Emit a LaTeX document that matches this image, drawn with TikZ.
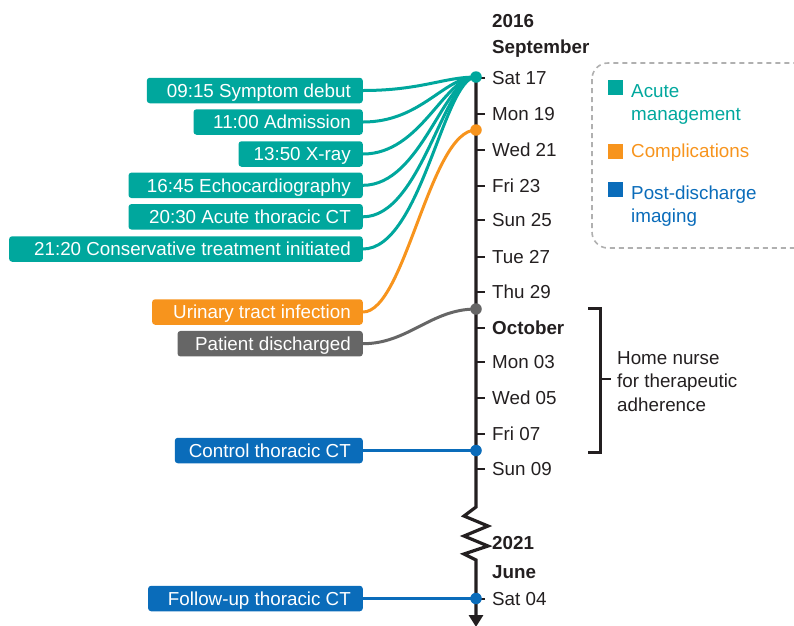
\documentclass[tikz,border=0pt]{standalone}
\usepackage{fontspec}
\setmainfont{Liberation Sans}
\usetikzlibrary{arrows.meta}

\definecolor{acutec}{HTML}{00A79D}
\definecolor{complc}{HTML}{F7941D}
\definecolor{imgc}{HTML}{0A6CBA}
\definecolor{dischc}{HTML}{666666}
\definecolor{inkc}{HTML}{231F20}
\definecolor{legendc}{HTML}{B0B0B0}

\pgfdeclarelayer{background}
\pgfsetlayers{background,main}

% right-aligned event text in a box of fixed width
\newcommand{\evtlabel}[2]{\makebox[#1pt][r]{#2}}

\begin{document}
\begin{tikzpicture}[x=1pt,y=-1pt,
  font=\fontsize{18.8pt}{23.5pt}\selectfont,
  evt/.style={fill=#1, text=white, rounded corners=3pt, anchor=east,
    minimum height=25.5pt, inner ysep=0pt, inner xsep=12pt,
    text height=13.5pt, text depth=0pt},
  dot/.style={circle, fill=#1, inner sep=0pt, minimum size=11.5pt},
  link/.style={draw=#1, line width=3pt},
  axis/.style={draw=inkc, line width=3.2pt, line join=miter},
  tickmark/.style={draw=inkc, line width=2pt},
  datelbl/.style={anchor=west, inner sep=0pt, text=inkc,
    text height=13.5pt, text depth=0pt},
  boldlbl/.style={datelbl, font=\fontsize{18.8pt}{23.5pt}\selectfont\bfseries},
  sq/.style={fill=#1, inner sep=0pt, minimum size=15pt},
  % base anchor of a multi-line node sits on its last line
  legtext/.style={anchor=base west, inner sep=0pt, align=left, text=#1},
]
\clip (0,0) rectangle (794,625);

% ---- timeline points ----
\node[dot=acutec] (d1) at (476,77) {};
\node[dot=complc] (d2) at (476,130) {};
\node[dot=dischc] (d3) at (476,309) {};
\node[dot=imgc]   (d4) at (476,450.5) {};
\node[dot=imgc]   (d5) at (476,598.5) {};

% ---- event boxes ----
\node[evt=acutec] (e1) at (363,90.5)  {\evtlabel{192}{09:15 Symptom debut}};
\node[evt=acutec] (e2) at (363,122)   {\evtlabel{145.3}{11:00 Admission}};
\node[evt=acutec] (e3) at (363,154)   {\evtlabel{100.3}{13:50 X-ray}};
\node[evt=acutec] (e4) at (363,185.3) {\evtlabel{210.3}{16:45 Echocardiography}};
\node[evt=acutec] (e5) at (363,216.8) {\evtlabel{210.3}{20:30 Acute thoracic CT}};
\node[evt=acutec] (e6) at (363,249)   {\evtlabel{329.7}{21:20 Conservative treatment initiated}};
\node[evt=complc] (u1) at (363,312)   {\evtlabel{186.7}{Urinary tract infection}};
\node[evt=dischc] (p1) at (363,343.7) {\evtlabel{161.3}{Patient discharged}};
\node[evt=imgc]   (c1) at (363,450.5) {\evtlabel{164}{Control thoracic CT}};
\node[evt=imgc]   (f1) at (363,598.5) {\evtlabel{190.7}{Follow-up thoracic CT}};

\begin{pgfonlayer}{background}
  % main axis with a break between 2016 and 2021
  \draw[axis, -{Triangle[width=14pt,length=12pt]}]
    (d1.center) -- (476,507) -- (464,516) -- (488,526) -- (464,536)
    -- (488,546) -- (464,554) -- (476,560) -- (476,627);
  % ticks
  \foreach \yy in {78,113.5,149.5,185.5,220,256.5,292,327.5,361.5,397.5,433.5,468.5,599}
    \draw[tickmark] (476,\yy) -- (485,\yy);
  % connectors
  \foreach \e in {e1,e2,e3,e4,e5,e6}
    \draw[link=acutec] (\e.east) .. controls +(58,0) and +(-32,0) .. (d1.center);
  \draw[link=complc] (u1.east) .. controls +(42,0) and +(-46,0) .. (d2.center);
  \draw[link=dischc] (p1.east) .. controls +(45,0) and +(-45,0) .. (d3.center);
  \draw[link=imgc] (c1.east) -- (d4.center);
  \draw[link=imgc] (f1.east) -- (d5.center);
\end{pgfonlayer}

% ---- date labels ----
\node[boldlbl] (y16)  at (492,21)    {2016};
\node[boldlbl] (sep)  at (492,47)    {September};
\node[datelbl] (l17)  at (492,78)    {Sat 17};
\node[datelbl] (l19)  at (492,113.5) {Mon 19};
\node[datelbl] (l21)  at (492,149.5) {Wed 21};
\node[datelbl] (l23)  at (492,185.5) {Fri 23};
\node[datelbl] (l25)  at (492,220)   {Sun 25};
\node[datelbl] (l27)  at (492,256.5) {Tue 27};
\node[datelbl] (l29)  at (492,292)   {Thu 29};
\node[boldlbl] (oct)  at (492,327.5) {October};
\node[datelbl] (l03)  at (492,361.5) {Mon 03};
\node[datelbl] (l05)  at (492,397.5) {Wed 05};
\node[datelbl] (l07)  at (492,433.5) {Fri 07};
\node[datelbl] (l09)  at (492,468.5) {Sun 09};
\node[boldlbl] (y21)  at (492,543)   {2021};
\node[boldlbl] (jun)  at (492,571.5) {June};
\node[datelbl] (l04)  at (492,599)   {Sat 04};

% ---- home nurse bracket ----
\draw[draw=inkc, line width=3pt, line join=miter]
  (588,308) -- (600,308) -- (600,452) -- (588,452);
\coordinate (brmid) at (600,379);
\draw[draw=inkc, line width=2pt] (brmid) -- ++(11,0);
\node[legtext=inkc] (nurse) at (617,411) {Home nurse\\for therapeutic\\adherence};

% ---- legend ----
\draw[draw=legendc, line width=1.6pt, dash pattern=on 5pt off 4pt, rounded corners=16pt]
  (592,63) rectangle (812,248);
\node[sq=acutec] (s1) at (615.5,87)  {};
\node[sq=complc] (s2) at (615.5,151) {};
\node[sq=imgc]   (s3) at (615.5,189.5) {};
\node[legtext=acutec] (t1) at (631,120.5) {Acute\\management};
\node[legtext=complc] (t2) at (631,157)   {Complications};
\node[legtext=imgc]   (t3) at (631,222.5) {Post-discharge\\imaging};
\end{tikzpicture}
\end{document}
